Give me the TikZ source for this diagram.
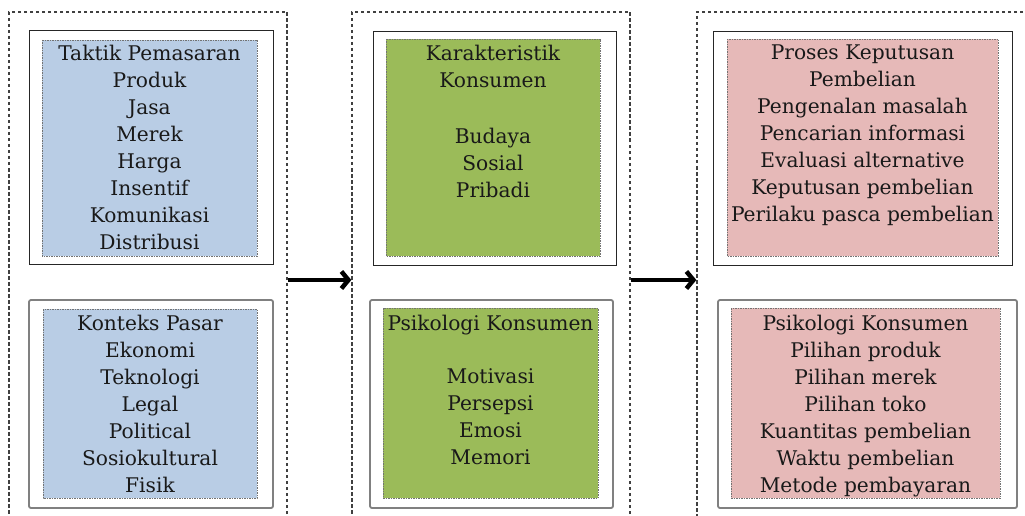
\documentclass[tikz,border=0pt]{standalone}
\usepackage{fontspec}
\setmainfont{DejaVu Serif}
\usepackage{tikz}
\usetikzlibrary{arrows.meta}

\definecolor{bluefill}{HTML}{B9CDE5}
\definecolor{greenfill}{HTML}{9BBB59}
\definecolor{pinkfill}{HTML}{E6B9B8}

\begin{document}
\begin{tikzpicture}[x = 1pt, y = -1pt,
    colbox/.style = {draw = black!75, dash pattern = on 3.5pt off 2.5pt, line width = 1.3pt, minimum height = 536pt, inner sep = 0pt},
    solidbox/.style = {draw = black!85, line width = 1pt},
    softbox/.style = {draw = black!50, line width = 1.8pt, rounded corners = 2pt},
    dotbox/.style = {draw = black!55, dash pattern = on 1.5pt off 1pt, line width = 0.8pt},
    itemtext/.style = {anchor = north, align = center, inner sep = 0pt, font = \fontsize{20.2}{27}\selectfont, text = black!90},
    flow/.style = {-{Straight Barb[length = 7pt, width = 17pt]}, line width = 4.5pt}]
  \clip (0, 0) rectangle (1025, 516);
  \fill [white] (0, 0) rectangle (1025, 516);
  % dashed columns
  \node [colbox, minimum width = 278pt] (col1) at (148, 280) {};
  \node [colbox, minimum width = 278pt] (col2) at (491, 280) {};
  \node [colbox, minimum width = 360pt] (col3) at (877, 280) {};
  \draw [flow] (col1.east) -- (col2.west);
  \draw [flow] (col2.east) -- (col3.west);
  % first column
  \draw [solidbox] (29, 31) rectangle (273, 264);
  \draw [dotbox, fill = bluefill] (42, 40) rectangle (257, 256);
  \node [itemtext] (taktik) at (149.5, 44.5) {Taktik Pemasaran\\Produk\\Jasa\\Merek\\Harga\\Insentif\\Komunikasi\\Distribusi};
  \draw [softbox] (29, 300) rectangle (273, 508);
  \draw [dotbox, fill = bluefill] (43, 309) rectangle (257, 498);
  \node [itemtext] (konteks) at (150, 314.5) {Konteks Pasar\\Ekonomi\\Teknologi\\Legal\\Political\\Sosiokultural\\Fisik};
  % second column
  \draw [solidbox] (373, 32) rectangle (616, 265);
  \draw [dotbox, fill = greenfill] (386, 39) rectangle (600, 256);
  \node [itemtext] (karakter) at (493, 44.5) {Karakteristik\\Konsumen\\[29pt]Budaya\\Sosial\\Pribadi};
  \draw [softbox] (370, 300) rectangle (613, 508);
  \draw [dotbox, fill = greenfill] (383, 308) rectangle (598, 498);
  \node [itemtext] (psikologi) at (490.5, 314.5) {Psikologi Konsumen\\[26pt]Motivasi\\Persepsi\\Emosi\\Memori};
  % third column
  \draw [solidbox] (713, 32) rectangle (1012, 265);
  \draw [dotbox, fill = pinkfill] (727, 39) rectangle (998, 256);
  \node [itemtext] (proses) at (862.5, 44.5) {Proses Keputusan\\Pembelian\\Pengenalan masalah\\Pencarian informasi\\Evaluasi alternative\\Keputusan pembelian\\Perilaku pasca pembelian};
  \draw [softbox] (718, 300) rectangle (1017, 508);
  \draw [dotbox, fill = pinkfill] (731, 308) rectangle (1000, 498);
  \node [itemtext] (pilihan) at (865.5, 314.5) {Psikologi Konsumen\\Pilihan produk\\Pilihan merek\\Pilihan toko\\Kuantitas pembelian\\Waktu pembelian\\Metode pembayaran};
\end{tikzpicture}
\end{document}
